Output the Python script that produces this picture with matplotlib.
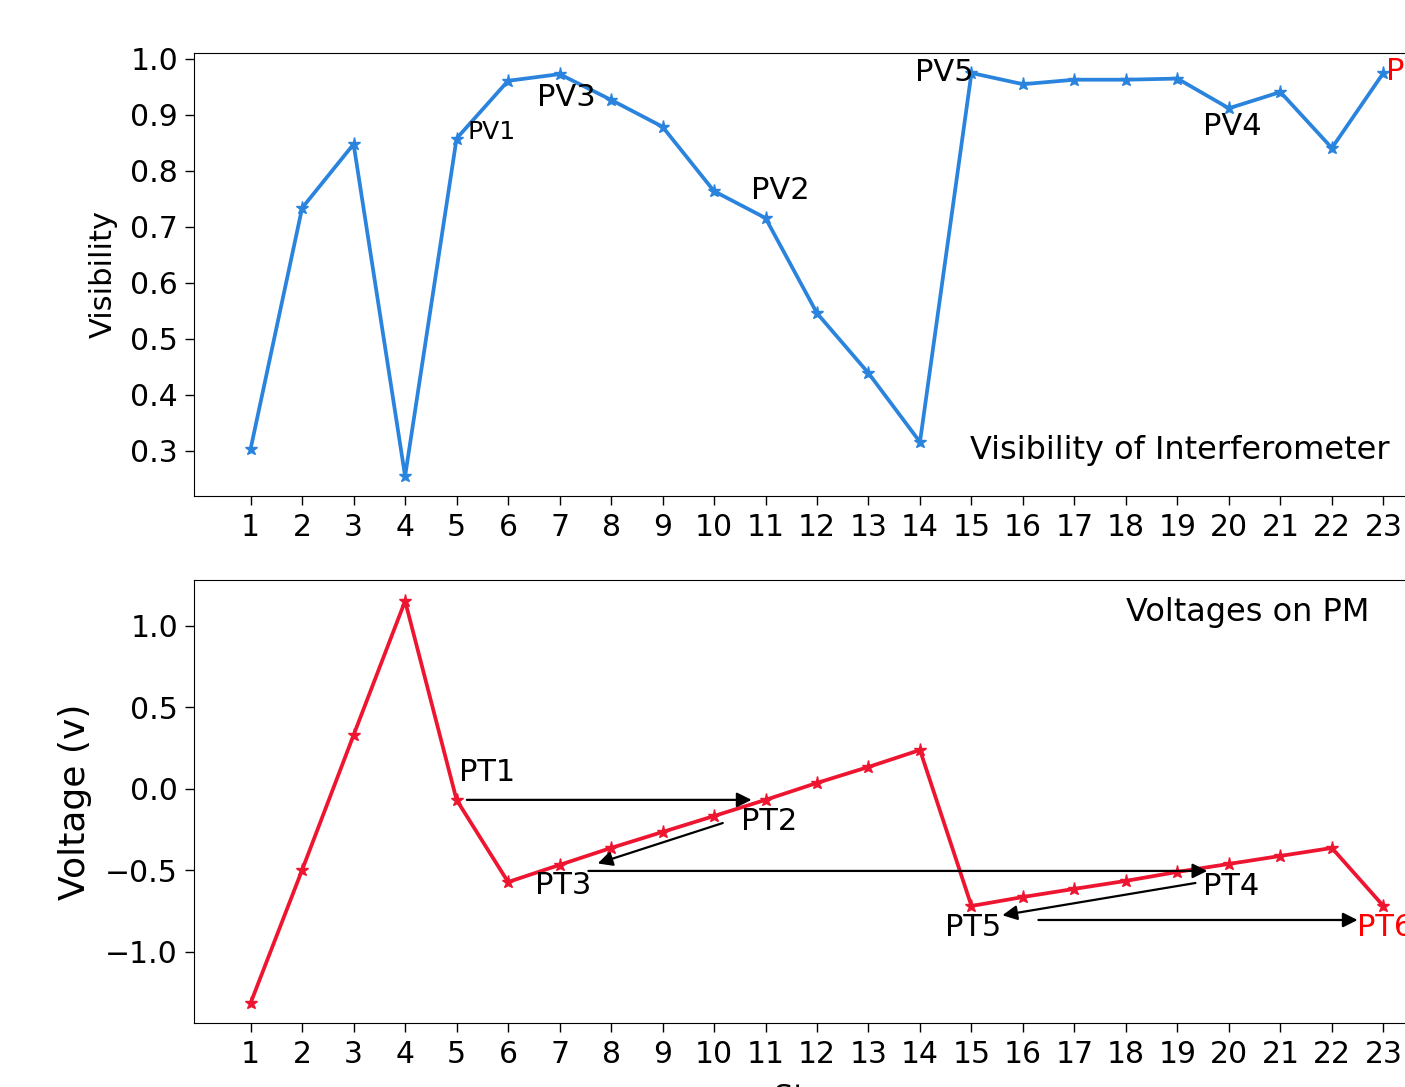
import matplotlib
matplotlib.use("Agg")
import matplotlib.pyplot as plt

steps = list(range(1, 24))
visibility = [0.304, 0.734, 0.848, 0.255, 0.858, 0.961, 0.973, 0.927, 0.879, 0.764,
              0.716, 0.546, 0.439, 0.316, 0.975, 0.955, 0.963, 0.963, 0.965, 0.912,
              0.941, 0.841, 0.975]
voltage = [-1.313, -0.497, 0.331, 1.153, -0.067, -0.571, -0.466, -0.362, -0.264, -0.166,
           -0.067, 0.037, 0.135, 0.239, -0.718, -0.663, -0.613, -0.564, -0.509, -0.460,
           -0.411, -0.362, -0.718]

pv_labels = ["PV1", "PV3", "PV2", "PV5", "PV4", "PV6"]
pv_pos = [(5.22, 0.87), (6.57, 0.932), (10.71, 0.766), (13.91, 0.975), (19.5, 0.88), (23.06, 0.977)]
pv_sizes = [18, 22, 22, 22, 22, 22]
pv_colors = ["black"] * 5 + ["red"]

pt_labels = ["PT1", "PT2", "PT3", "PT4", "PT5", "PT6"]
pt_pos = [(5.04, 0.098), (10.53, -0.202), (6.53, -0.595), (19.49, -0.601), (14.48, -0.853), (22.48, -0.853)]
pt_colors = ["black"] * 5 + ["red"]

arrow_from = [(5.20, -0.067), (10.17, -0.209), (7.56, -0.503), (19.35, -0.577), (16.30, -0.804)]
arrow_to = [(10.73, -0.067), (7.74, -0.457), (19.58, -0.503), (15.60, -0.775), (22.50, -0.804)]

blue = "#2a84dd"
red = "#ee1530"

W, H = 1405, 1087
fig = plt.figure(figsize=(W / 100, H / 100), dpi=100)

left = 194 / W
right_px = 1440
width = (right_px - 194) / W
ax1 = fig.add_axes([left, 1 - 496 / H, width, (496 - 53) / H])
ax2 = fig.add_axes([left, 1 - 1023 / H, width, (1023 - 580) / H])

ax1.plot(steps, visibility, color=blue, lw=2.7, marker="*", ms=9.5)
ax2.plot(steps, voltage, color=red, lw=2.7, marker="*", ms=9.5)

for ax in (ax1, ax2):
    ax.set_xticks(steps)
    ax.set_xticklabels([str(s) for s in steps])
    ax.set_xlim(-0.1, 24.1)
    ax.tick_params(labelsize=21.5, length=6.5, width=1.0)
    ax.tick_params(axis="x", pad=5.7)
    ax.tick_params(axis="y", pad=5.0)

ax1.set_yticks([0.3, 0.4, 0.5, 0.6, 0.7, 0.8, 0.9, 1.0])
ax1.set_ylim(0.2196, 1.0107)
ax2.set_yticks([-1.0, -0.5, 0.0, 0.5, 1.0])
ax2.set_ylim(-1.436, 1.282)

ax1.set_ylabel("Visibility", fontsize=22)
ax2.set_ylabel("Voltage (v)", fontsize=26)
ax2.set_xlabel("Steps", fontsize=22, labelpad=10)
ax1.yaxis.set_label_coords(-0.061, 0.5)
ax2.yaxis.set_label_coords(-0.082, 0.5)

for lab, (x, y), s, c in zip(pv_labels, pv_pos, pv_sizes, pv_colors):
    ax1.text(x, y, lab, fontsize=s, color=c, va="center", ha="left")
ax1.text(14.98, 0.30, "Visibility of Interferometer", fontsize=23, va="center", ha="left")

for lab, (x, y), c in zip(pt_labels, pt_pos, pt_colors):
    ax2.text(x, y, lab, fontsize=22, color=c, va="center", ha="left")
ax2.text(18.0, 1.08, "Voltages on PM", fontsize=23, va="center", ha="left")

for a, b in zip(arrow_from, arrow_to):
    ax2.annotate("", xy=b, xytext=a,
                 arrowprops=dict(arrowstyle="-|>", color="black", lw=1.6,
                                 mutation_scale=22, shrinkA=0, shrinkB=0))

fig.savefig("out.png", dpi=100)
